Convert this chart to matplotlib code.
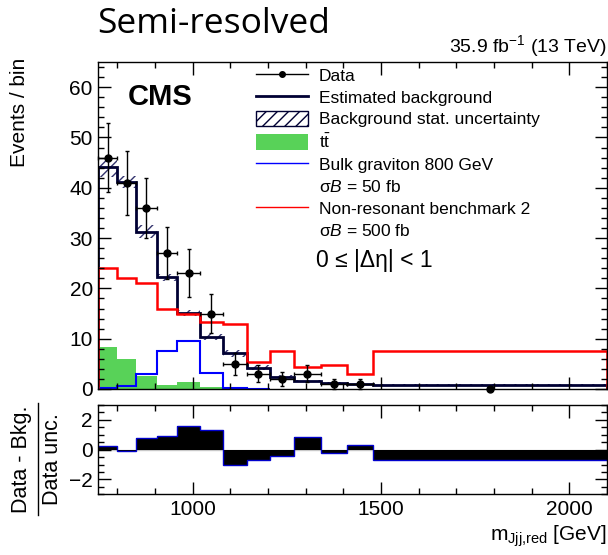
import numpy as np
import matplotlib
matplotlib.use("Agg")
import matplotlib.pyplot as plt
from matplotlib.lines import Line2D
from matplotlib.patches import Patch
from matplotlib.ticker import MultipleLocator

plt.rcParams['font.family'] = ['Liberation Sans', 'DejaVu Sans']
plt.rcParams['mathtext.fontset'] = 'custom'
plt.rcParams['mathtext.rm'] = 'Liberation Sans'
plt.rcParams['mathtext.it'] = 'Liberation Sans:italic'
plt.rcParams['mathtext.bf'] = 'Liberation Sans:bold'
plt.rcParams['hatch.linewidth'] = 1.0

# m_Jjj,red binning (GeV)
edges = [750, 800, 850, 905, 960, 1020, 1080, 1145, 1205, 1270, 1340, 1410, 1480, 2100]

data = [46, 41, 36, 27, 23, 15, 5, 3, 2, 3, 1, 1, 0]
data_err = [6.8, 6.4, 6.0, 5.2, 4.8, 3.9, 2.2, 1.7, 1.4, 1.7, 1.0, 1.0, 0.0]

bkg = [44.1, 41.2, 31.3, 22.2, 15.1, 10.4, 7.1, 4.2, 2.4, 1.5, 1.1, 0.9, 0.85]
bkg_unc = [2.0, 1.2, 1.2, 0.7, 0.6, 0.6, 0.7, 0.5, 0.3, 0.2, 0.2, 0.15, 0.1]

ttbar = [8.4, 6.0, 2.5, 0.85, 1.3, 0.45, 0.3, 0.1, 0, 0, 0, 0, 0]
graviton = [0.2, 0.5, 3.0, 7.6, 9.6, 3.2, 0.1, 0.05]
nonres = [24.0, 22.0, 21.0, 15.9, 14.9, 13.4, 12.9, 5.4, 7.5, 4.4, 4.8, 3.0, 7.5]

pull = [0.25, -0.11, 0.8, 0.93, 1.6, 1.3, -1.02, -0.68, -0.43, 0.86, -0.23, 0.3, -0.73]

navy = '#000033'
hatch_col = '#34346e'
green = '#58d258'

edges = np.array(edges, dtype=float)
centers = 0.5 * (edges[:-1] + edges[1:])
halfw = 0.5 * np.diff(edges)
data = np.array(data, dtype=float)
bkg = np.array(bkg)
bkg_unc = np.array(bkg_unc)

fig = plt.figure(figsize=(6.08, 5.55), dpi=100)
ax = fig.add_axes([0.1617, 0.2991, 0.8367, 0.5892])
rax = fig.add_axes([0.1617, 0.1094, 0.8367, 0.1609], sharex=ax)

# main pad
ax.stairs(ttbar, edges, fill=True, color=green, lw=0)
ax.bar(edges[:-1], 2 * bkg_unc, bottom=bkg - bkg_unc, width=np.diff(edges), align='edge',
       fill=False, hatch='///', edgecolor=hatch_col, linewidth=0)
ax.stairs(bkg, edges, color=navy, lw=2)
ax.stairs(graviton, edges[:len(graviton) + 1], color='#0000ff', lw=1.5)
ax.stairs(nonres, edges, color='#ff0000', lw=1.8)
xerr = np.where(data > 0, halfw, 0)
eb = ax.errorbar(centers, data, yerr=data_err, xerr=xerr, fmt='o', color='black',
                 ms=5, lw=1, capsize=1.5, clip_on=False, zorder=5)

ax.set_xlim(750, 2100)
ax.set_ylim(0, 65)
ax.yaxis.set_major_locator(MultipleLocator(10))
ax.yaxis.set_minor_locator(MultipleLocator(2))
ax.xaxis.set_major_locator(MultipleLocator(500))
ax.xaxis.set_minor_locator(MultipleLocator(100))
ax.tick_params(labelbottom=False)

ax.text(0.058, 0.894, 'CMS', transform=ax.transAxes, fontsize=21, fontweight='bold', va='center')
ax.text(0.428, 0.394, '0 ≤ |Δη| < 1', transform=ax.transAxes, fontsize=16.5, va='center')

blank = Line2D([], [], linestyle='none')
data_handle = Line2D([], [], color='black', lw=1, marker='o', ms=4)
handles = [data_handle,
           Line2D([], [], color=navy, lw=2),
           Patch(facecolor='white', edgecolor=navy, hatch='///', lw=1),
           Patch(facecolor=green, edgecolor='none'),
           Line2D([], [], color='#0000ff', lw=1),
           blank,
           Line2D([], [], color='#ff0000', lw=1),
           blank]
labels = ['Data', 'Estimated background', 'Background stat. uncertainty',
          r'$\mathrm{t\bar{t}}$', 'Bulk graviton 800 GeV', r'$\mathrm{\sigma}\mathit{B}$ = 50 fb',
          'Non-resonant benchmark 2', r'$\mathrm{\sigma}\mathit{B}$ = 500 fb']
ax.legend(handles, labels, loc='upper left', bbox_to_anchor=(0.31, 0.985), frameon=False,
          fontsize=12.5, labelspacing=0.3, handlelength=3.0, handleheight=1.0,
          handletextpad=0.6, borderpad=0, borderaxespad=0)

# ratio pad
rax.axhline(0, color='#c8c8c8', lw=1, zorder=0)
rax.stairs(pull, edges, baseline=0, fill=True, color='black', lw=0)
rax.stairs(pull, edges, baseline=None, color='#0000cc', lw=1)
rax.set_ylim(-3, 3)
rax.yaxis.set_major_locator(MultipleLocator(2))
rax.yaxis.set_minor_locator(MultipleLocator(0.5))

for a in (ax, rax):
    a.tick_params(which='both', direction='in', top=True, right=True, labelsize=15)
    a.tick_params(which='major', length=9, width=1)
    a.tick_params(which='minor', length=4.5, width=1)
    a.tick_params(axis='y', pad=4)
    a.tick_params(axis='x', pad=4)
    for s in a.spines.values():
        s.set_linewidth(1)

fig.text(97 / 608, 1 - 33 / 555, 'Semi-resolved', fontsize=25.5, family=['Open Sans', 'DejaVu Sans'],
         va='baseline', ha='left')
fig.text(0.998, 1 - 52 / 555, r'35.9 fb$^{-1}$ (13 TeV)', fontsize=14, ha='right', va='baseline')
fig.text(20 / 608, 1 - 58 / 555, 'Events / bin', rotation=90, fontsize=15, ha='center', va='top')

# pull axis title drawn as a stacked fraction
yc = 1 - 459 / 555
fig.text(22 / 608, yc, 'Data - Bkg.', rotation=90, fontsize=15.5, ha='center', va='center')
fig.text(52 / 608, yc, 'Data unc.', rotation=90, fontsize=15.5, ha='center', va='center')
fig.add_artist(Line2D([38 / 608, 38 / 608], [1 - 403 / 555, 1 - 515 / 555],
                      transform=fig.transFigure, color='black', lw=1))

fig.text(0.998, 1 - 541 / 555, r'm$_{\mathrm{Jjj{,}red}}$ [GeV]', fontsize=15, ha='right', va='baseline')

fig.savefig('out.png', dpi=100)
